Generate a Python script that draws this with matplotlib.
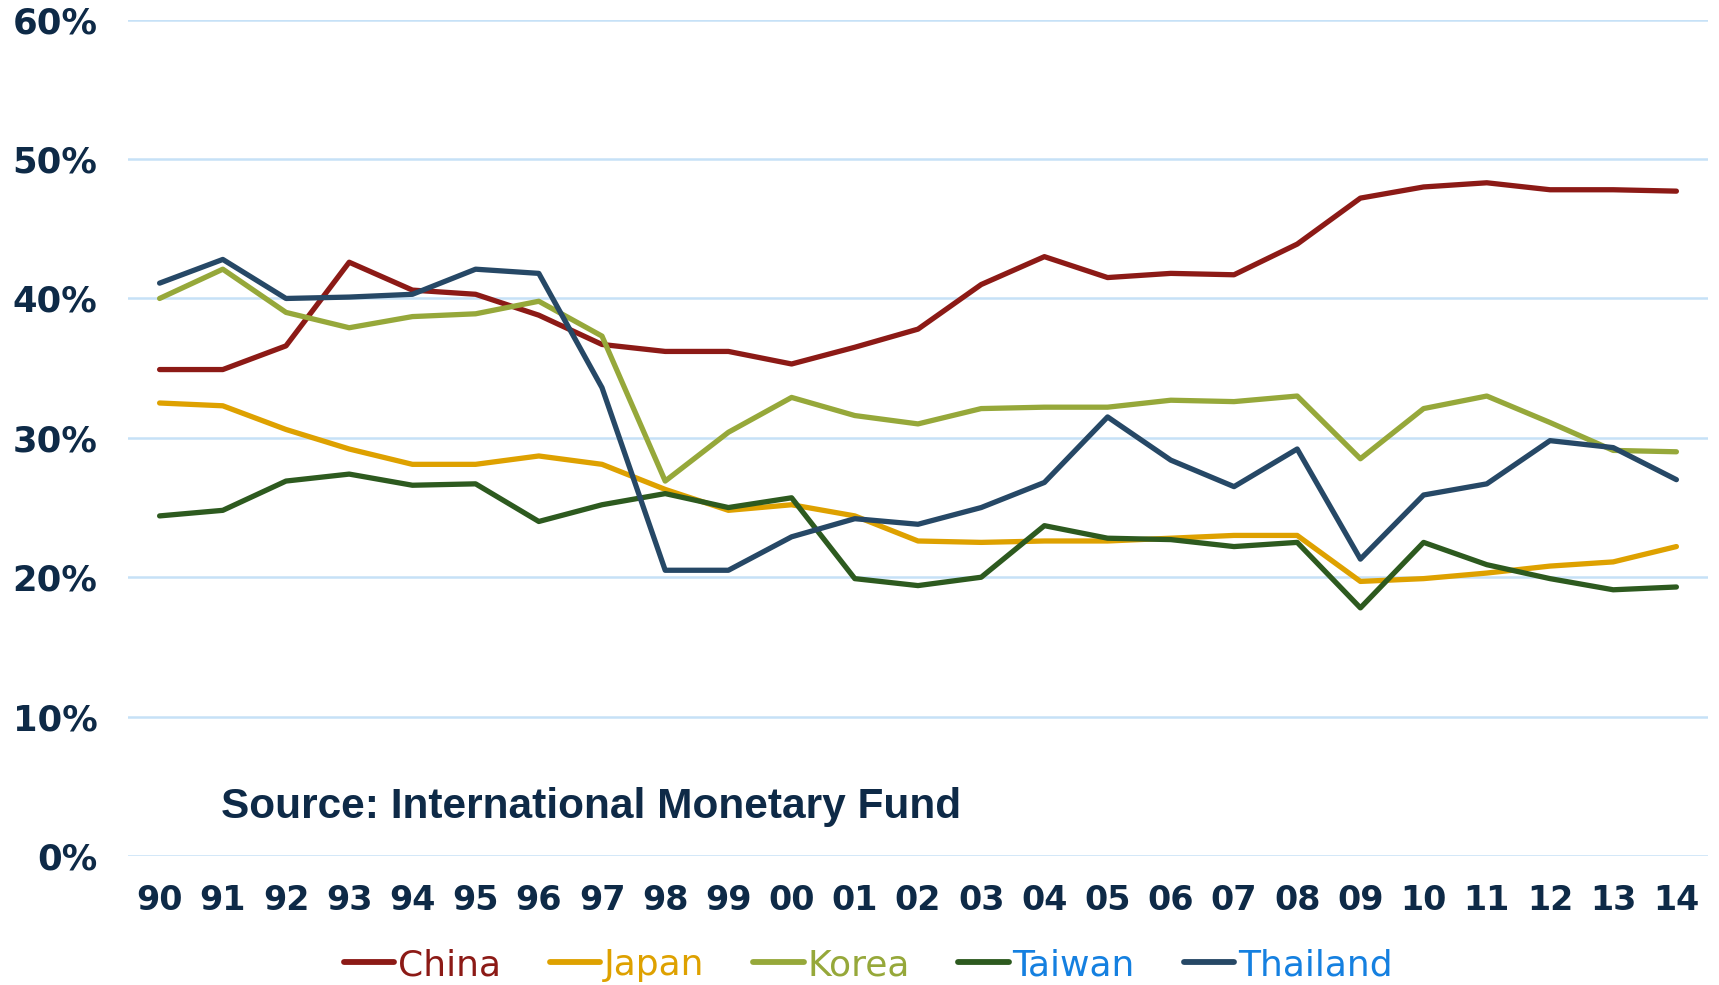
import matplotlib
matplotlib.use("Agg")
import matplotlib.pyplot as plt

years = ["90", "91", "92", "93", "94", "95", "96", "97", "98", "99", "00", "01",
         "02", "03", "04", "05", "06", "07", "08", "09", "10", "11", "12", "13", "14"]

china = [34.9, 34.9, 36.6, 42.6, 40.6, 40.3, 38.8, 36.7, 36.2, 36.2, 35.3, 36.5,
         37.8, 41.0, 43.0, 41.5, 41.8, 41.7, 43.9, 47.2, 48.0, 48.3, 47.8, 47.8, 47.7]
japan = [32.5, 32.3, 30.6, 29.2, 28.1, 28.1, 28.7, 28.1, 26.3, 24.8, 25.2, 24.4,
         22.6, 22.5, 22.6, 22.6, 22.8, 23.0, 23.0, 19.7, 19.9, 20.3, 20.8, 21.1, 22.2]
korea = [40.0, 42.1, 39.0, 37.9, 38.7, 38.9, 39.8, 37.3, 26.9, 30.4, 32.9, 31.6,
         31.0, 32.1, 32.2, 32.2, 32.7, 32.6, 33.0, 28.5, 32.1, 33.0, 31.1, 29.1, 29.0]
taiwan = [24.4, 24.8, 26.9, 27.4, 26.6, 26.7, 24.0, 25.2, 26.0, 25.0, 25.7, 19.9,
          19.4, 20.0, 23.7, 22.8, 22.7, 22.2, 22.5, 17.8, 22.5, 20.9, 19.9, 19.1, 19.3]
thailand = [41.1, 42.8, 40.0, 40.1, 40.3, 42.1, 41.8, 33.6, 20.5, 20.5, 22.9, 24.2,
            23.8, 25.0, 26.8, 31.5, 28.4, 26.5, 29.2, 21.3, 25.9, 26.7, 29.8, 29.3, 27.0]

series = [
    ("China", china, "#8c1a16", "#8c1a16"),
    ("Japan", japan, "#dea100", "#dea100"),
    ("Korea", korea, "#96a83a", "#96a83a"),
    ("Taiwan", taiwan, "#2d5a1f", "#1580e0"),
    ("Thailand", thailand, "#264866", "#1580e0"),
]

navy = "#0e2a47"

fig = plt.figure(figsize=(17.19, 9.85), dpi=100)
ax = fig.add_axes([128 / 1719, 1 - 856 / 985, (1708 - 128) / 1719, (856 - 19.7) / 985])

x = list(range(len(years)))
for name, vals, col, _ in series:
    ax.plot(x, vals, color=col, lw=3.8, label=name, solid_capstyle="round")

ax.set_xlim(-0.5, len(years) - 0.5)
ax.set_ylim(0, 60)
ax.set_yticks(range(0, 61, 10))
ax.set_yticklabels([f"{v}%" for v in range(0, 61, 10)])
ax.set_xticks(x)
ax.set_xticklabels(years)
ax.yaxis.grid(True, color="#c6e1f7", lw=1.8)
ax.set_axisbelow(True)
for s in ax.spines.values():
    s.set_visible(False)
ax.tick_params(length=0, labelsize=24, labelcolor=navy)
ax.tick_params(axis="x", pad=20)
ax.tick_params(axis="y", pad=22, labelsize=25.5)
for lab in ax.get_xticklabels() + ax.get_yticklabels():
    lab.set_fontweight("bold")

ax.text(221 / 1719, 1 - 807 / 985, "Source: International Monetary Fund",
        transform=fig.transFigure, fontsize=30.5, fontweight="bold",
        family="Liberation Sans", color=navy, va="center", ha="left")

leg = fig.legend(loc="center", bbox_to_anchor=(868 / 1719, 1 - 965 / 985), ncol=5,
                 frameon=False, fontsize=26, handlelength=1.4, handletextpad=0.1,
                 columnspacing=1.35)
for txt, (_, _, _, tc) in zip(leg.get_texts(), series):
    txt.set_color(tc)
for h in leg.get_lines():
    h.set_linewidth(4.2)

fig.savefig("out.png", dpi=100)
